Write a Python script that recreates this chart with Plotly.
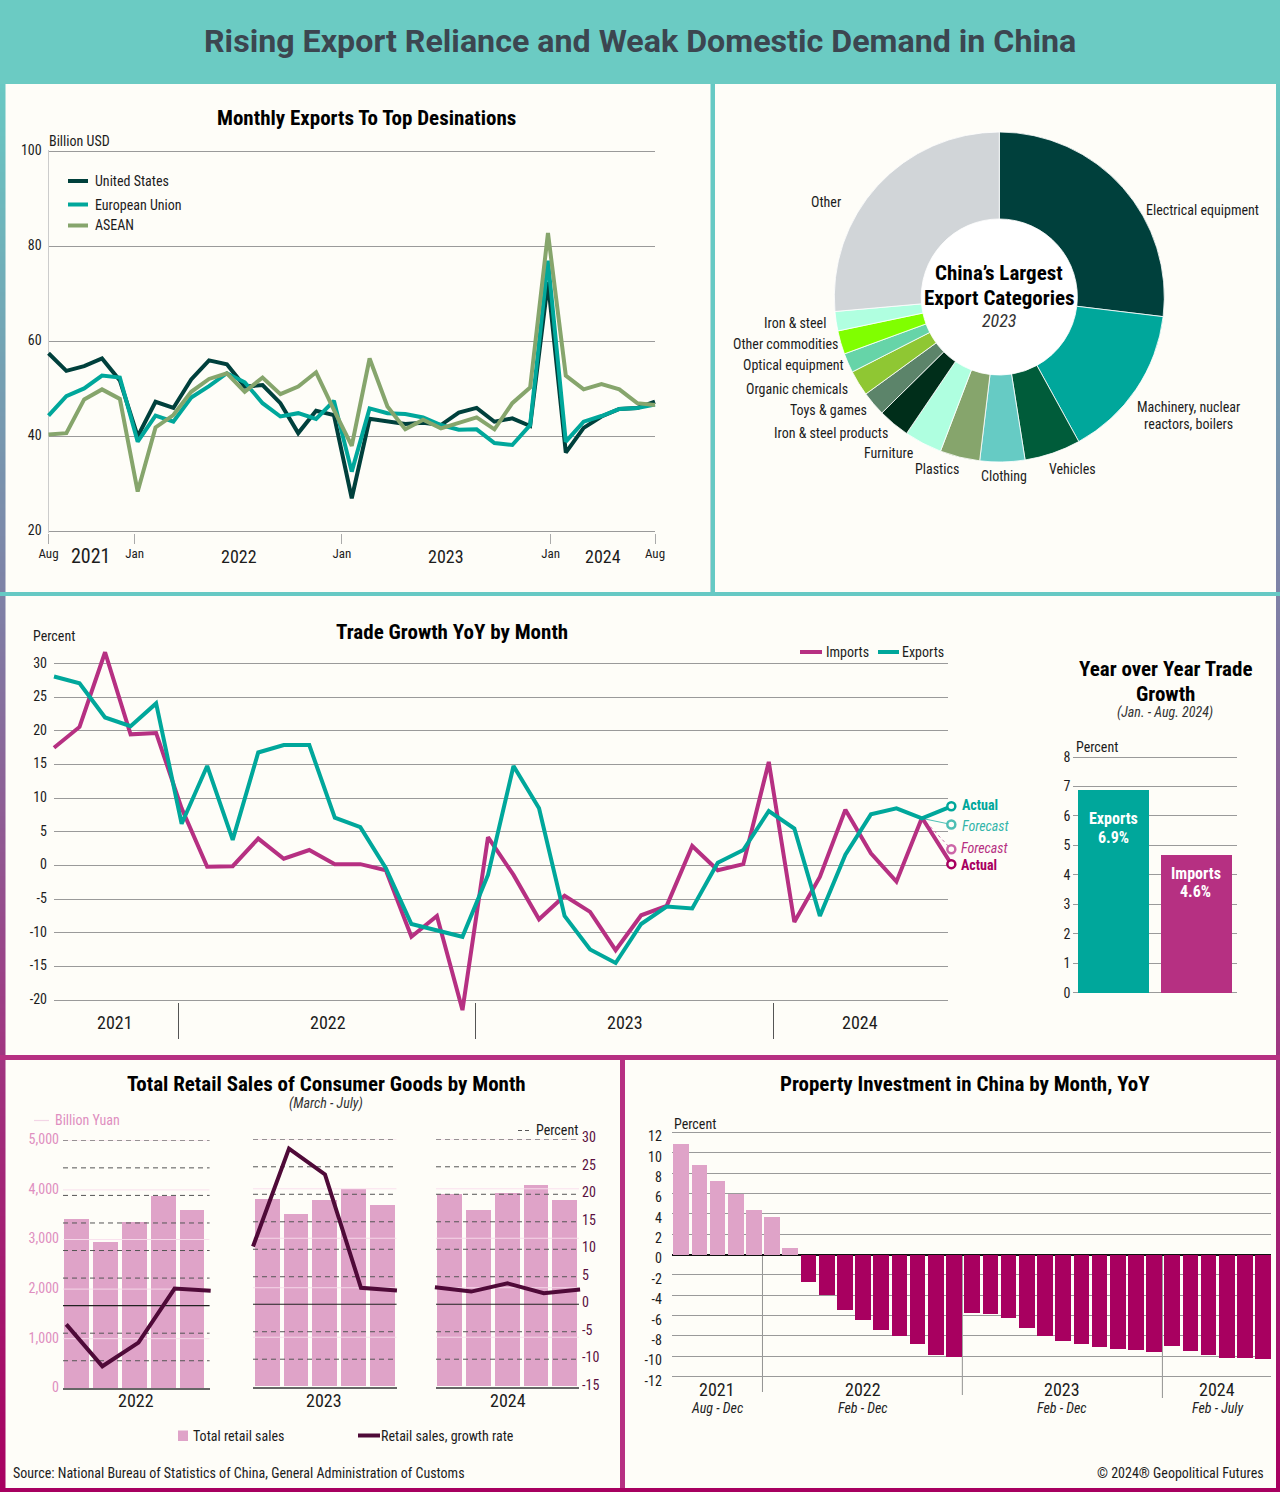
import numpy as np
import plotly.graph_objects as go

W, H = 1280, 1492
COND = "Roboto Condensed, Liberation Sans Narrow, Roboto, sans-serif"
ROB = "Roboto, sans-serif"
INK = "#1c1c1c"
TEAL = "#00A79B"
MAG = "#B63082"
DEEP = "#A80060"
PINK = "#DFA3C8"
MAROON = "#4F0A38"
GRID = "#9a9a9a"
CREAM = "#FEFDF8"

# ---------- data ----------
export_months = list(range(35))
us_exports = [57.5,53.8,54.8,56.4,51.8,40.0,47.3,46.0,52.0,56.0,55.2,50.5,50.8,47.0,40.7,45.4,44.5,27.0,43.7,43.1,42.6,42.9,42.4,45.0,46.0,43.1,43.8,42.2,72.5,36.6,41.8,44.2,45.8,46.0,47.3]
eu_exports = [44.4,48.5,50.1,52.8,52.4,38.9,44.4,43.1,48.2,50.6,53.3,51.4,47.0,44.2,44.9,43.7,47.5,32.6,45.9,44.9,44.7,44.0,42.4,41.4,41.5,38.6,38.2,42.4,77.0,38.9,43.1,44.3,45.8,46.0,46.7]
asean_exports = [40.4,40.7,47.8,49.9,47.9,28.4,41.9,44.5,49.4,52.1,53.3,49.4,52.4,48.9,50.5,53.5,45.6,38.0,56.4,46.3,41.5,43.5,41.7,42.8,44.0,41.5,47.0,50.3,82.8,52.8,49.9,51.0,49.9,47.0,46.6]
export_ticks = [0,4.83,16.45,28.15,34]
export_tick_labels = ["Aug","Jan","Jan","Jan","Aug"]
export_years = [("2021",2.4,20),("2022",10.66,18),("2023",22.3,18),("2024",31.1,18)]

pie_labels = ["Electrical equipment","Machinery, nuclear reactors, boilers","Vehicles","Clothing","Plastics","Furniture","Iron & steel products","Toys & games","Organic chemicals","Optical equipment","Other commodities","Iron & steel","Other"]
pie_values = [26.9,15.1,5.5,4.4,3.9,3.7,3.1,2.4,2.5,1.9,2.3,1.9,26.4]
pie_colors = ["#00403C","#00A79B","#005C3A","#66CBC4","#86A56C","#AFFFE0","#002E1A","#5C846A","#8FC733","#66D4A8","#80FF00","#B0FFE0","#D1D5D8"]

trade_months = list(range(35)) + [35.15]
imports_yoy = [17.5,20.6,31.7,19.5,19.7,8.5,-0.2,-0.1,4.0,1.0,2.3,0.2,0.2,-0.7,-10.6,-7.5,-21.5,4.2,-1.4,-8.0,-4.5,-6.9,-12.6,-7.4,-6.0,2.9,-0.7,0.2,15.4,-8.4,-1.7,8.3,1.8,-2.4,7.1,0.2]
exports_yoy = [28.1,27.1,22.0,20.7,24.1,6.2,14.8,3.8,16.8,17.9,17.9,7.1,5.7,-0.4,-8.7,-9.6,-10.6,-1.4,14.8,8.5,-7.5,-12.5,-14.5,-8.7,-6.1,-6.4,0.4,2.3,8.1,5.5,-7.5,1.6,7.6,8.5,7.0,8.8]
imports_forecast = 2.4
exports_forecast = 6.1
trade_year_breaks = [4.88,16.5,28.2]

yoy_names = ["Exports","Imports"]
yoy_values = [6.9,4.7]
yoy_labels = ["6.9%","4.6%"]

retail_years = ["2022","2023","2024"]
retail_sales = [[3414,2950,3347,3878,3588],[3787,3484,3774,3990,3673],[3895,3572,3915,4070,3774]]
retail_growth = [[-3.4,-11.0,-6.7,3.1,2.7],[10.5,28.3,23.6,3.0,2.5],[3.1,2.3,3.8,2.0,2.7]]
retail_months = [0,1,2,3,4]
retail_left_ticks = [0,1000,2000,3000,4000,5000]
retail_right_ticks = [-15,-10,-5,0,5,10,15,20,25,30]

property_yoy = [10.9,8.8,7.2,6.0,4.4,3.7,0.7,-2.7,-4.0,-5.4,-6.4,-7.4,-8.0,-8.8,-9.8,-10.0,-5.7,-5.8,-6.2,-7.2,-8.0,-8.5,-8.8,-9.1,-9.3,-9.4,-9.6,-9.0,-9.5,-9.8,-10.1,-10.1,-10.2]
property_breaks = [4.48,15.47,26.47]
property_years = [("2021","Aug - Dec",1.97),("2022","Feb - Dec",9.99),("2023","Feb - Dec",20.96),("2024","Feb - July",29.48)]

# ---------- helpers ----------
def X(*v): return [a/W for a in v]
def Y(top,bot): return [1-bot/H,1-top/H]
def py(v): return 1-v/H
shapes=[]; annos=[]
def rect(x0,y0,x1,y1,c,layer="below"):
    shapes.append(dict(type="rect",xref="paper",yref="paper",x0=x0/W,x1=x1/W,y0=py(y1),y1=py(y0),fillcolor=c,line_width=0,layer=layer))
def seg(x0,y0,x1,y1,c,w=4,dash="solid",layer="above"):
    shapes.append(dict(type="line",xref="paper",yref="paper",x0=x0/W,x1=x1/W,y0=py(y0),y1=py(y1),line=dict(color=c,width=w,dash=dash),layer=layer))
def T(s,x,y,size=14,anchor="center",color=INK,bold=False,italic=False,family=COND):
    x=x-1 if anchor=="left" else (x+1 if anchor=="right" else x)
    annos.append(dict(text=s,x=x/W,y=py(y),xref="paper",yref="paper",xanchor=anchor,yanchor="middle",showarrow=False,borderpad=0,
        font=dict(family=family,size=size,color=color,weight=700 if bold else 400,style="italic" if italic else "normal")))
def Txy(s,x,xref,y,size=18,color=INK,italic=False):
    annos.append(dict(text=s,x=x,xref=xref,y=py(y),yref="paper",xanchor="center",yanchor="middle",showarrow=False,borderpad=0,
        font=dict(family=COND,size=size,color=color,style="italic" if italic else "normal")))
def labels(vals): return [str(v) for v in vals]
def padded(top,bot,lo,hi,pad=1.5):
    """Grow a value axis by a pixel or two so the first and last gridlines are drawn."""
    k=(hi-lo)/(bot-top)
    return dict(domain=Y(top-pad,bot+pad),range=[lo-pad*k,hi+pad*k])

# ---------- background ----------
stops_y=[84,620,1040,1492]
stops_c=np.array([[105,201,196],[128,126,165],[160,55,130],[168,0,96]])
rect(0,0,W,86,"#6BCBC3")
for top in range(84,H,4):
    c=[int(np.interp(top,stops_y,stops_c[:,k])) for k in range(3)]
    rect(0,top,W,top+4.5,f"rgb({c[0]},{c[1]},{c[2]})")
rect(0,592,W,596,"#66C9C4")
rect(0,1055,W,1060,"#B63082")
rect(710.5,84,715,592,"#66C9C4")
rect(620,1060,625,1488,"#B63082")
rect(5.5,84,710.5,592,CREAM)
rect(715,84,1276,592,CREAM)
rect(5.5,596,1276,1055,CREAM)
rect(5.5,1060,620,1488,CREAM)
rect(625,1060,1276,1488,CREAM)
shapes.append(dict(type="circle",xref="paper",yref="paper",x0=(999.3-79)/W,x1=(999.3+79)/W,y0=py(297+79),y1=py(297-79),fillcolor="#ffffff",line_width=0,layer="below"))

fig=go.Figure()
ax={}
base=dict(showgrid=False,zeroline=False,showline=False,ticks="",automargin=False)
tf=dict(family=COND,size=14,color=INK)
hidden=dict(visible=False,automargin=False)

# ---------- A: monthly exports ----------
a_scale=(655-48.5)/34
for name,vals,col in [("United States",us_exports,"#00403C"),("European Union",eu_exports,TEAL),("ASEAN",asean_exports,"#86A56C")]:
    fig.add_trace(go.Scatter(x=export_months,y=vals,mode="lines",name=name,xaxis="x21",yaxis="y21",line=dict(color=col,width=4),showlegend=False))
ax["xaxis"]=dict(base,domain=X(48.5,655),range=[0,34],anchor="y",tickmode="array",tickvals=export_ticks,ticktext=export_tick_labels,ticks="outside",ticklen=10,tickcolor="#aaa",tickfont=dict(family=COND,size=13,color=INK),ticklabelstandoff=-2)
ax["yaxis"]=dict(base,**padded(151.3,531.5,20,100),anchor="x",tickvals=[20,40,60,80,100],showgrid=True,gridcolor=GRID,gridwidth=1,tickfont=tf,ticklabelstandoff=3,ticklabelshift=-1,showline=True,linecolor="#ccc",linewidth=1)
ax["xaxis21"]=dict(hidden,domain=X(48.5-a_scale,655+a_scale),range=[-1,35],anchor="y21")
ax["yaxis21"]=dict(hidden,domain=Y(151.3,531.5),range=[20,100],anchor="x21")
T("Monthly Exports To Top Desinations",366,118,21,bold=True,color="#000")
T("Billion USD",48.5,141,14,"left")
for s,y,c in [("United States",181,"#00403C"),("European Union",204.5,TEAL),("ASEAN",225.5,"#86A56C")]:
    seg(68,y,88,y,c,4); T(s,95,y,14,"left")
for s,xv,sz in export_years:
    Txy(s,xv,"x",556,sz)

# ---------- B: donut ----------
fig.add_trace(go.Pie(labels=pie_labels,values=pie_values,hole=0.473,sort=False,direction="clockwise",rotation=0,marker=dict(colors=pie_colors,line=dict(color="#ffffff",width=0.8)),textinfo="none",showlegend=False,domain=dict(x=[(999.3-165)/W,(999.3+165)/W],y=[py(297+165),py(297-165)])))
for s,x,y in [("Electrical equipment",1202,210),("Machinery, nuclear",1188,407),("reactors, boilers",1188,424),("Vehicles",1072,469),("Clothing",1004,476),("Plastics",937,469),("Furniture",889,453),("Iron &amp; steel products",831,433),("Toys &amp; games",828,410),("Organic chemicals",797,389),("Optical equipment",793,365),("Other commodities",785,344),("Iron &amp; steel",795,323),("Other",826,202)]:
    T(s,x,y,14)
T("China’s Largest",999,273,21,bold=True,color="#000")
T("Export Categories",999,298,21,bold=True,color="#000")
T("2023",999,321,18,italic=True,color="#333")

# ---------- C: trade growth ----------
c_sx=(947.5-54)/35
c_sy=(1000-663.7)/50
ticks_c=list(range(-20,31,5))
fig.add_trace(go.Scatter(x=[0,35],y=[-20,30],mode="none",xaxis="x2",yaxis="y2",hoverinfo="skip",showlegend=False))
fig.add_trace(go.Scatter(x=trade_months[-2:],y=[imports_yoy[-2],imports_forecast],mode="lines",xaxis="x20",yaxis="y20",line=dict(color="#CC66A8",width=1,dash="3px,3px"),showlegend=False,name="Imports forecast"))
fig.add_trace(go.Scatter(x=trade_months[-2:],y=[exports_yoy[-2],exports_forecast],mode="lines",xaxis="x20",yaxis="y20",line=dict(color="#4DBFB4",width=1),showlegend=False,name="Exports forecast"))
fig.add_trace(go.Scatter(x=trade_months,y=imports_yoy,mode="lines",name="Imports",xaxis="x20",yaxis="y20",line=dict(color=MAG,width=4),showlegend=False))
fig.add_trace(go.Scatter(x=trade_months,y=exports_yoy,mode="lines",name="Exports",xaxis="x20",yaxis="y20",line=dict(color=TEAL,width=4),showlegend=False))
end_x=trade_months[-1]
fig.add_trace(go.Scatter(x=[end_x,end_x],y=[imports_forecast,imports_yoy[-1]],mode="markers",xaxis="x20",yaxis="y20",marker=dict(size=8,color=CREAM,line=dict(color=["#CC66A8",DEEP],width=2.5)),showlegend=False))
fig.add_trace(go.Scatter(x=[end_x,end_x],y=[exports_forecast,exports_yoy[-1]],mode="markers",xaxis="x20",yaxis="y20",marker=dict(size=8,color=CREAM,line=dict(color=["#4DBFB4",TEAL],width=2.5)),showlegend=False))
ax["xaxis2"]=dict(base,domain=X(54,947.5),range=[0,35],anchor="y2",tickvals=trade_year_breaks,ticktext=["","",""],ticks="outside",ticklen=36,tickcolor="#555")
ax["yaxis2"]=dict(base,**padded(663.7,1000,-20,30),anchor="x2",tickvals=ticks_c,ticktext=labels(ticks_c),showgrid=True,gridcolor=GRID,gridwidth=1,tickfont=tf,ticklabelstandoff=6,ticklabelshift=-1)
ax["xaxis20"]=dict(hidden,domain=X(54-c_sx,54+37*c_sx),range=[-1,37],anchor="y20")
ax["yaxis20"]=dict(hidden,domain=Y(663.7-4*c_sy,1000+3*c_sy),range=[-23,34],anchor="x20")
T("Trade Growth YoY by Month",452,632,21,bold=True,color="#000")
T("Percent",33,636,14,"left")
seg(800,652,822,652,MAG,4); T("Imports",826,652,14,"left")
seg(878,652,899,652,TEAL,4); T("Exports",902,652,14,"left")
for s,x in [("2021",115),("2022",328),("2023",625),("2024",860)]:
    T(s,x,1022.5,18)
T("Actual",962,805,14,"left",TEAL,bold=True)
T("Forecast",962,826,14,"left","#33B5AA",italic=True)
T("Forecast",961,848,14,"left",MAG,italic=True)
T("Actual",961,865,14,"left",DEEP,bold=True)

# ---------- F: YoY bars ----------
fig.add_trace(go.Bar(x=yoy_names,y=yoy_values,marker=dict(color=[TEAL,MAG],line_width=0),xaxis="x3",yaxis="y3",width=0.86,showlegend=False,name="YoY"))
ax["xaxis3"]=dict(base,domain=X(1072.5,1236.7),range=[-0.494,1.499],anchor="y3",showticklabels=False)
ax["yaxis3"]=dict(base,**padded(757,992.7,0,8),anchor="x3",tickvals=list(range(0,9)),showgrid=True,gridcolor=GRID,gridwidth=1,tickfont=tf,ticklabelstandoff=1)
T("Year over Year Trade",1165,669,21,bold=True,color="#000")
T("Growth",1165,694,21,bold=True,color="#000")
T("(Jan. - Aug. 2024)",1165,713,14,italic=True,color="#333")
T("Percent",1076,747,14,"left")
for name,lab,x,y in zip(yoy_names,yoy_labels,[1113,1195.5],[818.5,873]):
    T(name,x,y,16,color="#fff",bold=True); T(lab,x,y+19,16,color="#fff",bold=True)

# ---------- D: retail small multiples ----------
panels=[((63,209.6),(1140.3,1388.3),(-0.48,4.61),(-0.09,3.97),136),
        ((253,396.6),(1139.3,1386.7),(-0.495,4.495),(-0.0,3.99),323.5),
        ((436,579),(1139.3,1386.7),(-0.48,4.5),(0.03,3.97),508)]
for i,(px,pyy,br,lr,labx) in enumerate(panels):
    n=4+i*4
    xa,ya,xb,yb=f"x{n}",f"y{n}",f"x{n+1}",f"y{n+1}"
    k=(lr[1]-lr[0])/(px[1]-px[0])
    fig.add_trace(go.Bar(x=retail_months,y=retail_sales[i],marker=dict(color=PINK,line_width=0),width=0.86,xaxis=xa,yaxis=ya,name="Total retail sales",showlegend=False))
    for v in retail_left_ticks[1:]:
        fig.add_trace(go.Scatter(x=list(br),y=[v,v],mode="lines",xaxis=xa,yaxis=ya,line=dict(color="rgba(248,222,236,0.9)",width=1),hoverinfo="skip",showlegend=False))
    for v in retail_right_ticks[1:]:
        if v==0:
            st=dict(color="#222",width=1.2)
        else:
            st=dict(color="#555",width=1,dash="5px,4px")
        fig.add_trace(go.Scatter(x=list(lr),y=[v,v],mode="lines",xaxis=xb,yaxis=yb,line=st,hoverinfo="skip",showlegend=False))
    fig.add_trace(go.Scatter(x=retail_months,y=retail_growth[i],mode="lines",xaxis=xb,yaxis=yb,line=dict(color=MAROON,width=4),name="Retail sales, growth rate",showlegend=False))
    ax[f"xaxis{n}"]=dict(base,domain=X(*px),range=list(br),anchor=ya,showticklabels=False,showline=True,linecolor="#666",linewidth=2)
    ax[f"xaxis{n+1}"]=dict(base,domain=X(px[0]-8,px[1]+8),range=[lr[0]-8*k,lr[1]+8*k],anchor=yb,showticklabels=False)
    yl=dict(base,domain=Y(*pyy),range=[0,5000],anchor=xa,tickvals=retail_left_ticks,tickformat=",d",tickfont=dict(family=COND,size=14,color="#DF8FC0"),ticklabelstandoff=3,ticklabelshift=-1)
    yr=dict(base,domain=Y(*pyy),range=[-15,30],anchor=xb,side="right",tickvals=retail_right_ticks,ticktext=labels(retail_right_ticks),tickfont=dict(family=COND,size=14,color="#5a1040"),ticklabelstandoff=-6,ticklabelshift=-2)
    if i>0: yl["showticklabels"]=False
    if i<2: yr["showticklabels"]=False
    ax[f"yaxis{n}"]=yl; ax[f"yaxis{n+1}"]=yr
    T(retail_years[i],labx,1400,18)
T("Total Retail Sales of Consumer Goods by Month",326,1084,21,bold=True,color="#000")
T("(March - July)",326,1103,14,italic=True,color="#333")
seg(34,1120.5,49,1120.5,"#F3D5E6",1.2); T("Billion Yuan",55,1120,14,"left","#DF8FC0")
seg(518,1130.5,531,1130.5,"#555",1,"4px,3px"); T("Percent",536,1130,14,"left")
rect(178,1430.5,188,1441,PINK,"above"); T("Total retail sales",193,1435.5,14,"left")
seg(358,1435.5,380,1435.5,MAROON,4); T("Retail sales, growth rate",381,1435.5,14,"left")
T("Source: National Bureau of Statistics of China, General Administration of Customs",13,1473,14,"left")

# ---------- E: property investment ----------
prop_x=list(range(len(property_yoy)))
ticks_e=list(range(-12,13,2))
fig.add_trace(go.Bar(x=prop_x,y=property_yoy,marker=dict(color=[PINK if v>0 else DEEP for v in property_yoy],line_width=0),width=0.86,xaxis="x16",yaxis="y16",showlegend=False,name="Property investment"))
ax["xaxis16"]=dict(base,domain=X(671.8,1271),range=[-0.505,32.44],anchor="y16",showticklabels=False)
ax["yaxis16"]=dict(base,**padded(1132.3,1376.7,-12,12),anchor="x16",tickvals=ticks_e,ticktext=labels(ticks_e),showgrid=True,gridcolor=GRID,gridwidth=1,zeroline=True,zerolinecolor="#111",zerolinewidth=1.5,tickfont=tf,ticklabelstandoff=9,ticklabelshift=4)
for xv,bot in zip(property_breaks,[1392,1395,1398]):
    shapes.append(dict(type="line",xref="x16",yref="paper",x0=xv,x1=xv,y0=py(1254.3),y1=py(bot),line=dict(color="#777",width=0.8),layer="below"))
for yr_,sub,xv in property_years:
    Txy(yr_,xv,"x16",1389,18)
    Txy(sub,xv,"x16",1408,14,"#222",True)
T("Property Investment in China by Month, YoY",965,1084,21,bold=True,color="#000")
T("Percent",674,1124,14,"left")
T("© 2024® Geopolitical Futures",1264,1473,14,"right")

# ---------- header ----------
T("Rising Export Reliance and Weak Domestic Demand in China",640,41,32.2,color="#3C4650",bold=True,family=ROB)

fig.update_layout(width=W,height=H,margin=dict(l=0,r=0,t=0,b=0,pad=0),paper_bgcolor="rgba(0,0,0,0)",plot_bgcolor="rgba(0,0,0,0)",
    showlegend=False,bargap=0,barmode="overlay",shapes=shapes,annotations=annos,font=dict(family=COND,color=INK),**ax)
fig.write_html("out.html",post_script="document.body.style.margin='0';",config={"displayModeBar":False})
